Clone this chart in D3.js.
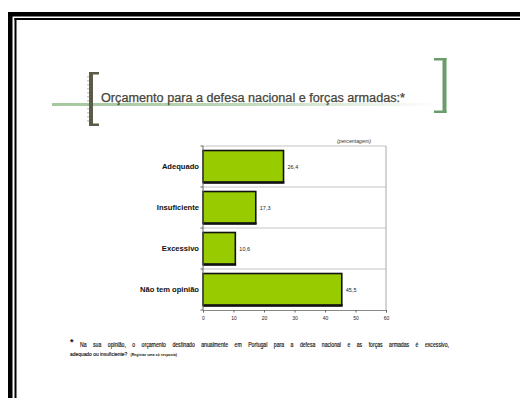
<!DOCTYPE html>
<html>
<head>
<meta charset="utf-8">
<script src="https://cdn.jsdelivr.net/npm/d3@7"></script>
<style>
  html, body { margin: 0; padding: 0; background: #fff; }
  svg { display: block; }
</style>
</head>
<body>
<svg id="chart" width="520" height="398"></svg>
<script>
// Survey answers (percent)
const categories = ["Adequado", "Insuficiente", "Excessivo", "Não tem opinião"];
const values = [26.4, 17.3, 10.6, 45.5];
const valueLabels = ["26,4", "17,3", "10,6", "45,5"];
const xTicks = [0, 10, 20, 30, 40, 50, 60];

const titleText = "Orçamento para a defesa nacional e forças armadas:*";
const unitText = "(percentagem)";
const noteLine1 = "Na sua opinião, o orçamento destinado anualmente em Portugal para a defesa nacional e as forças armadas é excessivo,";
const noteLine2 = "adequado ou insuficiente?";
const noteLine2b = "(Registar uma só resposta)";

const svg = d3.select("#chart");
const font = "'Liberation Sans', Arial, sans-serif";

// Slide frame: thick outer rule plus thin inner rule on top and left
svg.append("rect").attr("x", 8).attr("y", 12).attr("width", 512).attr("height", 4.5).attr("fill", "#000");
svg.append("rect").attr("x", 8).attr("y", 12).attr("width", 4.5).attr("height", 386).attr("fill", "#000");
svg.append("rect").attr("x", 14.5).attr("y", 18).attr("width", 505.5).attr("height", 2).attr("fill", "#000");
svg.append("rect").attr("x", 14.5).attr("y", 18).attr("width", 2).attr("height", 380).attr("fill", "#000");

// Title underline fading to white
const defs = svg.append("defs");
const grad = defs.append("linearGradient").attr("id", "rule").attr("x1", "0").attr("x2", "1");
grad.append("stop").attr("offset", "0").attr("stop-color", "#a6c79f");
grad.append("stop").attr("offset", "0.45").attr("stop-color", "#bad5b4");
grad.append("stop").attr("offset", "1").attr("stop-color", "#ffffff");
svg.append("rect").attr("x", 52).attr("y", 103).attr("width", 388).attr("height", 3).attr("fill", "url(#rule)");

// Left bracket
const lb = svg.append("g").attr("fill", "#5b5b47");
lb.append("rect").attr("x", 89).attr("y", 72).attr("width", 4).attr("height", 54);
lb.append("rect").attr("x", 89).attr("y", 72).attr("width", 10).attr("height", 2.5);
lb.append("rect").attr("x", 89).attr("y", 123.5).attr("width", 10).attr("height", 2.5);
svg.append("line").attr("x1", 88).attr("x2", 88).attr("y1", 76).attr("y2", 122)
  .attr("stroke", "#9a9a88").attr("stroke-width", 1).attr("stroke-dasharray", "1.5,2.5");

// Right bracket
const rb = svg.append("g").attr("fill", "#6a9d6a");
rb.append("rect").attr("x", 442.5).attr("y", 58).attr("width", 4).attr("height", 55);
rb.append("rect").attr("x", 434).attr("y", 58).attr("width", 12.5).attr("height", 2.5);
rb.append("rect").attr("x", 434).attr("y", 110.5).attr("width", 12.5).attr("height", 2.5);

// Title
svg.append("text").attr("x", 101).attr("y", 101.5)
  .attr("font-family", font).attr("font-size", 12).attr("fill", "#45453a")
  .attr("stroke", "#45453a").attr("stroke-width", 0.25)
  .attr("textLength", 304).attr("lengthAdjust", "spacingAndGlyphs")
  .text(titleText);

// Chart scales
const x = d3.scaleLinear().domain([0, 60]).range([203, 386]);
const y = d3.scaleBand().domain(categories).range([146, 310]).paddingInner(0.22).paddingOuter(0.11);
const step = y.step();
const plotTop = y.range()[0];

// Plot frame and category separators
const plot = svg.append("g");
categories.forEach((c, i) => {
  plot.append("line")
    .attr("x1", x(0)).attr("x2", x(60))
    .attr("y1", plotTop + i * step).attr("y2", plotTop + i * step)
    .attr("stroke", "#c4c4c4").attr("stroke-width", 1);
});
plot.append("line").attr("x1", x(60)).attr("x2", x(60)).attr("y1", plotTop).attr("y2", plotTop + 4 * step)
  .attr("stroke", "#aaaaaa").attr("stroke-width", 1);

// Bars with dark outline and heavier bottom edge
const bars = svg.append("g");
categories.forEach((c, i) => {
  bars.append("rect")
    .attr("x", x(0)).attr("y", y(c))
    .attr("width", x(values[i]) - x(0)).attr("height", y.bandwidth())
    .attr("fill", "#99cc00").attr("stroke", "#111").attr("stroke-width", 1.6);
  bars.append("line")
    .attr("x1", x(0)).attr("x2", x(values[i]) + 0.8)
    .attr("y1", y(c) + y.bandwidth()).attr("y2", y(c) + y.bandwidth())
    .attr("stroke", "#111").attr("stroke-width", 2.6);
  svg.append("text")
    .attr("x", x(values[i]) + 4).attr("y", y(c) + y.bandwidth() / 2 + 2)
    .attr("font-family", font).attr("font-size", 5.5).attr("fill", "#222")
    .text(valueLabels[i]);
});

// Category axis
const yAxis = svg.append("g").attr("transform", `translate(${x(0)},0)`);
yAxis.append("line").attr("y1", plotTop).attr("y2", plotTop + 4 * step).attr("stroke", "#666").attr("stroke-width", 1);
d3.range(5).forEach(i => {
  yAxis.append("line").attr("x1", -2.5).attr("x2", 0)
    .attr("y1", plotTop + i * step).attr("y2", plotTop + i * step).attr("stroke", "#666");
});
categories.forEach(c => {
  svg.append("text")
    .attr("x", 199).attr("y", y(c) + y.bandwidth() / 2 + 2.6)
    .attr("text-anchor", "end")
    .attr("font-family", font).attr("font-size", 7.6).attr("font-weight", "bold").attr("fill", "#111")
    .text(c);
});

// Value axis
const xAxis = svg.append("g").attr("transform", `translate(0,${plotTop + 4 * step})`)
  .call(d3.axisBottom(x).tickValues(xTicks).tickSize(2.5).tickPadding(4).tickFormat(d3.format("d")));
xAxis.select(".domain").attr("stroke", "#888");
xAxis.selectAll(".tick line").attr("stroke", "#666");
xAxis.selectAll(".tick text").attr("font-family", font).attr("font-size", 5).attr("fill", "#222");

// Unit note
svg.append("text").attr("x", 337).attr("y", 143)
  .attr("font-family", font).attr("font-size", 5.5).attr("font-style", "italic").attr("fill", "#333")
  .attr("textLength", 34).attr("lengthAdjust", "spacingAndGlyphs")
  .text(unitText);

// Footnote: condensed face, first line justified to the full column width
const squeeze = 0.82;
svg.append("text").attr("x", 70).attr("y", 345)
  .attr("font-family", font).attr("font-size", 9).attr("font-weight", "bold").attr("fill", "#111").text("*");

const l1 = svg.append("g").attr("transform", `translate(80,347) scale(${squeeze},1)`)
  .append("text")
  .attr("font-family", font).attr("font-size", 6.3).attr("fill", "#111")
  .attr("stroke", "#111").attr("stroke-width", 0.15)
  .text(noteLine1);
const natural = l1.node().getComputedTextLength();
const gaps = noteLine1.split(" ").length - 1;
l1.attr("word-spacing", (369 / squeeze - natural) / gaps);

const l2 = svg.append("g").attr("transform", `translate(70,356) scale(${squeeze},1)`);
const l2a = l2.append("text")
  .attr("font-family", font).attr("font-size", 6.0).attr("fill", "#111")
  .attr("stroke", "#111").attr("stroke-width", 0.15)
  .text(noteLine2);
const l2aw = l2a.node().getComputedTextLength();
l2.append("text").attr("x", l2aw + 4)
  .attr("font-family", font).attr("font-size", 4.4).attr("font-weight", "bold").attr("fill", "#111")
  .text(noteLine2b);
</script>
</body>
</html>
